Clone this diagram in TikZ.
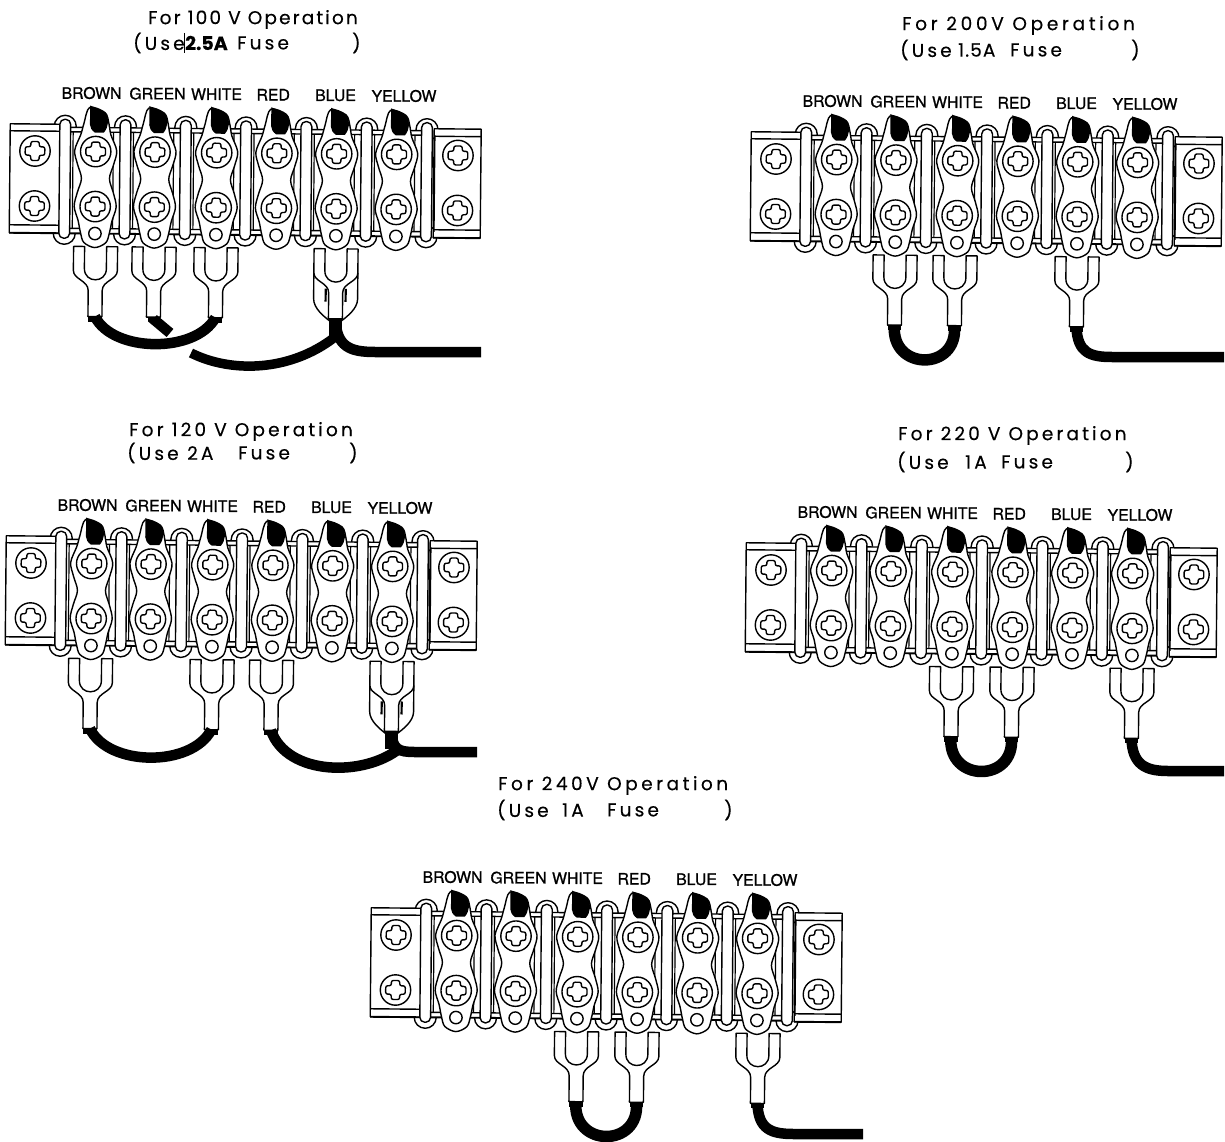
\documentclass[tikz,border=0pt]{standalone}
\usepackage{fontspec}
\newfontfamily\ttlfont[FakeBold=0.3]{Poppins}
\newfontfamily\labfont[FakeBold=1.0]{TeX Gyre Heros}
\tikzset{
  ink/.style={line width=1.4pt,draw=black,fill=white,line join=round},
  heavy/.style={line width=1.9pt,draw=black},
  wire/.style={line width=10.5pt,draw=black,line cap=butt},
  ttl/.style={anchor=west,inner sep=0pt,font=\ttlfont\addfontfeature{LetterSpace=#1}\fontsize{18.5}{19}\selectfont},
  ttl/.default=17,
  lab/.style={inner sep=0pt,font=\labfont\fontsize{15.8}{16}\selectfont},
  tab/.style={fill=black,draw=none}
}
\newcommand\screwat[2]{%
  \begin{scope}[shift={(#1,#2)}]
    \draw[ink] (0,0) circle (15.2);
    \draw[ink,rounded corners=2pt] (-4.2,-9.5)--(4.2,-9.5)--(4.2,-4.2)--(9.8,-4.2)--(9.8,4.2)--(4.2,4.2)--(4.2,9.5)--(-4.2,9.5)--(-4.2,4.2)--(-9.8,4.2)--(-9.8,-4.2)--(-4.2,-4.2)--cycle;
  \end{scope}}
\newcommand\plateat[1]{%
  \begin{scope}[shift={(#1,0)}]
    \draw[ink] plot[smooth cycle,tension=0.55] coordinates {(-6.5,107)(-12,123)(-15,134)(-21,150)(-18,164)(-14,178)(-18,192)(-21,206)(-17,220)(-14.5,232)(-11,242)(0,247)(11,242)(14.5,232)(17,220)(21,206)(18,192)(14,178)(18,164)(21,150)(15,134)(13,123)(9,112)};
    \fill[tab] (-6,105)--(4,109)--(10,113) .. controls (13,118) and (13,126) .. (8,132)--(-1,132) .. controls (-4,130) and (-6,127) .. (-6,124)--cycle;
    \draw[ink] (0,233) circle (6.2);
  \end{scope}
  \screwat{#1}{151}\screwat{#1}{206}}
\newcommand\lugat[2]{%
  \begin{scope}[shift={(#2,246)}]
    \draw[ink] (-22,0)--(-22,24) .. controls (-22,33) and (-7,34) .. (-7,44)--(-7,70)--(7,70)--(7,44) .. controls (7,34) and (22,33) .. (22,24)--(22,0)--(11,0)--(11,22) .. controls (11,37) and (-11,37) .. (-11,22)--(-11,0)--cycle;
    \coordinate (#1) at (0,70);
  \end{scope}}
\newcommand\backlugat[1]{%
  \begin{scope}[shift={(#1,246)}]
    \draw[ink] (-22,24)--(-22,50) .. controls (-22,60) and (-11,68) .. (-6,72)--(6,72) .. controls (11,68) and (22,60) .. (22,50)--(22,24);
    \draw[line width=2.2pt] (-10,40)--(-10,53) (10,40)--(10,53);
  \end{scope}}
\newcommand\stripat[4]{%
  \begin{scope}[shift={(#2,#3)},rotate around={-0.54:(35,151)}]
    \foreach \b in {65,125.3,185.6,245.9,306.2,366.5,426.8}{
      \draw[ink] (\b,126) circle (11);
      \draw[ink] (\b,233) circle (11);}
    \fill[white] (60,127) rectangle (432,233);
    \draw[ink] (60,127)--(432,127) (60,131.5)--(432,131.5) (60,228)--(432,228);
    \draw[heavy] (60,233)--(432,233);
    \draw[ink] (10,124) rectangle (62,233);
    \draw[ink] (10,131)--(62,131) (10,225)--(62,225);
    \draw[heavy] (10,233)--(62,233);
    \draw[ink] (434,125) rectangle (481,234);
    \draw[ink] (434,132.5)--(481,132.5) (434,226)--(481,226);
    \draw[heavy] (434,234)--(481,234);
    \foreach \b in {65,125.3,185.6,245.9,306.2,366.5,426.8}{
      \draw[line width=1.2pt] (\b+8,131.5)--(\b+8,228);
      \ifdim\b pt>70pt \draw[line width=1.2pt] (\b-12,131.5)--(\b-12,228);\fi
      \draw[ink,rounded corners=5pt] (\b-5.4,119) rectangle (\b+5.4,238);}
    \screwat{35}{151}\screwat{35}{206}\screwat{458}{151.5}\screwat{458}{206.5}
    \foreach \p in {95.7,155,216.7,276.9,336.7,396.7}{\plateat{\p}}
    \node[lab] (#1brown) at (91,92.5) {BROWN};
    \node[lab] (#1green) at (157,92.5) {GREEN};
    \node[lab] (#1white) at (216,92.5) {WHITE};
    \node[lab] (#1red) at (272.7,92.5) {RED};
    \node[lab] (#1blue) at (335,92.5) {BLUE};
    \node[lab] (#1yellow) at (403.5,92.5) {YELLOW};
    #4
  \end{scope}}
\newcommand\ferrule[1]{\draw[wire,line width=13.4pt] (#1) -- +(0,5);}
\begin{document}
\begin{tikzpicture}[x=1pt,y=-1pt]
\useasboundingbox (0,0) rectangle (1225,1142);
\fill[white] (0,0) rectangle (1225,1142);

\stripat{a}{0}{0}{\lugat{a1}{96.5}\lugat{a2}{155}\lugat{a3}{217}\backlugat{337}\lugat{a5}{337}}
\stripat{b}{741}{8}{\lugat{b2}{155}\lugat{b3}{215}\lugat{b5}{337}}
\stripat{c}{-4}{412}{\lugat{c1}{95.5}\lugat{c3}{217}\lugat{c4}{276.5}\backlugat{397}\lugat{c6}{397}}
\stripat{d}{736}{419}{\lugat{d3}{216.5}\lugat{d4}{277}\lugat{d6}{397}}
\stripat{e}{361}{784}{\lugat{e3}{216.5}\lugat{e4}{277}\lugat{e6}{398}}

\coordinate (aend) at (481,352);
\coordinate (astub) at (170,333);
\coordinate (aloop) at (191,353);
\coordinate (bend) at (1224,357);
\coordinate (cend) at (477,752);
\coordinate (dend) at (1224,771);
\coordinate (eend) at (863,1134);

% 100 V wiring
\ferrule{a1}\ferrule{a3}
\draw[wire] (a1) .. controls +(18,36) and +(-20,36) .. (a3);
\draw[wire] (a2) -- +(0,2) -- (astub);
\draw[wire,line width=9.5pt] (aloop) .. controls +(40,20) and +(-45,35) .. (335,337);
\draw[wire,line width=13pt] (a5) -- +(0,19);
\draw[wire] (a5) .. controls +(1,28) and (350,352) .. (375,352) -- (aend);
% 200 V wiring
\ferrule{b2}\ferrule{b3}\ferrule{b5}
\draw[wire,line width=11.5pt] (b2) .. controls +(-4,46) and +(4,46) .. (b3);
\draw[wire] (b5) .. controls +(1,26) and (1090,357) .. (1112,357) -- (bend);
% 120 V wiring
\ferrule{c1}\ferrule{c3}\ferrule{c4}
\draw[wire] (c1) .. controls +(18,38) and +(-20,38) .. (c3);
\draw[wire] (c4) .. controls +(16,46) and (365,777) .. (400,748);
\draw[wire,line width=13pt] (c6) -- +(0,18);
\draw[wire] (c6) .. controls +(1,18) and (398,752) .. (415,752) -- (cend);
% 220 V wiring
\ferrule{d3}\ferrule{d4}\ferrule{d6}
\draw[wire,line width=11.5pt] (d3) .. controls +(-4,46) and +(4,46) .. (d4);
\draw[wire] (d6) .. controls +(1,26) and (1145,771) .. (1168,771) -- (dend);
% 240 V wiring
\ferrule{e3}\ferrule{e4}\ferrule{e6}
\draw[wire,line width=11.5pt] (e3) .. controls +(-4,46) and +(4,46) .. (e4);
\draw[wire] (e6) .. controls +(1,26) and (771,1134) .. (794,1134) -- (eend);

% titles
\node[ttl=11.6] (t1a) at (148,19.5) {For 100 V Operation};
\node[ttl] (t1b) at (133,43) {(Use};
\node[anchor=west,inner sep=0pt,font=\ttlfont\bfseries\fontsize{19}{19}\selectfont] (t1c) at (185,43) {2.5A};
\node[ttl] (t1d) at (237,43) {Fuse};
\node[ttl] (t1e) at (352,43) {)};
\coordinate (t1p) at (184,33);
\coordinate (t1q) at (184,53);
\draw[line width=0.6pt] (t1p) -- (t1q);

\node[ttl=20] (t2a) at (902,25.5) {For 200V Operation};
\node[ttl] (t2b) at (900,50) {(Use};
\node[ttl=6] (t2c) at (958,50) {1.5A};
\node[ttl] (t2d) at (1010,50) {Fuse};
\node[ttl] (t2e) at (1131,50) {)};

\node[ttl=17] (t3a) at (129,431.5) {For 120 V Operation};
\node[ttl] (t3b) at (127,453) {(Use};
\node[ttl] (t3c) at (187,453) {2A};
\node[ttl] (t3d) at (238,453) {Fuse};
\node[ttl] (t3e) at (349,453) {)};

\node[ttl=17] (t4a) at (898,435.5) {For 220 V Operation};
\node[ttl] (t4b) at (897,462) {(Use};
\node[ttl] (t4c) at (965,462) {1A};
\node[ttl] (t4d) at (1001,462) {Fuse};
\node[ttl] (t4e) at (1125,462) {)};

\node[ttl=19] (t5a) at (498,785.5) {For 240V Operation};
\node[ttl] (t5b) at (497,810) {(Use};
\node[ttl] (t5c) at (562,810) {1A};
\node[ttl] (t5d) at (607,810) {Fuse};
\node[ttl] (t5e) at (724,810) {)};
\end{tikzpicture}
\end{document}
